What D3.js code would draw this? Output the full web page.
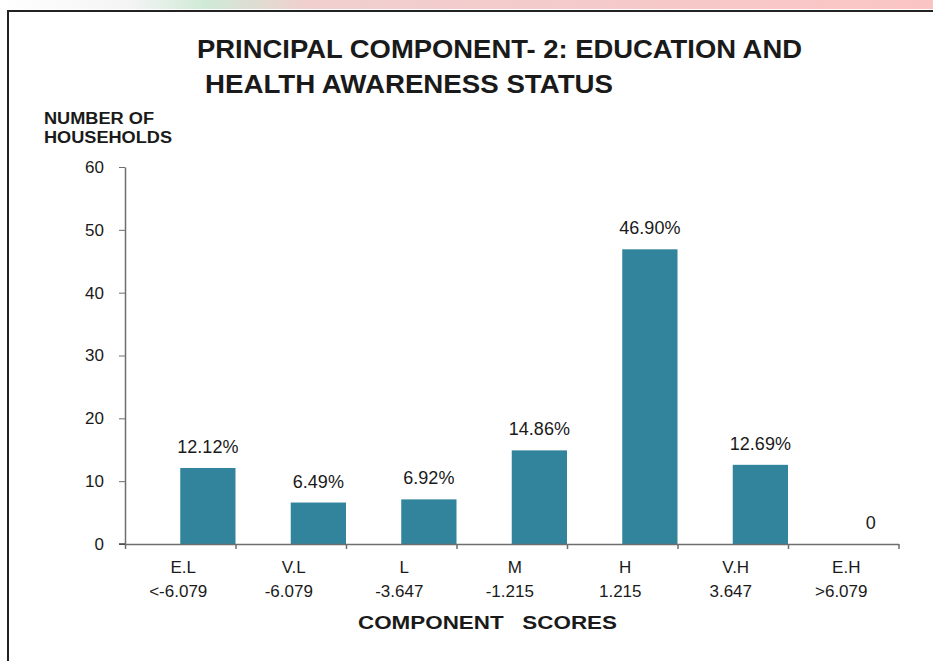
<!DOCTYPE html>
<html lang="en">
    <head>
        <meta charset="utf-8">
        <title>Principal Component 2</title>
        <script type="text/javascript" src="https://d3js.org/d3.v7.min.js"></script>
        <style>
            body { margin: 0; background: #fff; }
            text { font-family: "Liberation Sans", Arial, sans-serif; fill: #1a1a1a; }
            .bold { font-weight: bold; }
            .axis path, .axis line { stroke: #6e6e6e; }
        </style>
    </head>
    <body>
        <svg width="933" height="661"></svg>

        <script type="text/javascript">

            // data
            var categories = ["E.L", "V.L", "L", "M", "H", "V.H", "E.H"];
            var scores = ["<-6.079", "-6.079", "-3.647", "-1.215", "1.215", "3.647", ">6.079"];
            var households = [12.1, 6.6, 7.1, 14.9, 46.9, 12.6, 0];
            var pctLabels = ["12.12%", "6.49%", "6.92%", "14.86%", "46.90%", "12.69%", "0"];
            var yTicks = [0, 10, 20, 30, 40, 50, 60];

            var svg = d3.select("svg");

            // faint coloured strip above the frame (scan edge)
            var grad = svg.append("defs").append("linearGradient").attr("id", "strip");
            grad.append("stop").attr("offset", "0%").attr("stop-color", "#ffffff");
            grad.append("stop").attr("offset", "14%").attr("stop-color", "#f4f4f4");
            grad.append("stop").attr("offset", "22%").attr("stop-color", "#cfead6");
            grad.append("stop").attr("offset", "33%").attr("stop-color", "#f0cfcf");
            grad.append("stop").attr("offset", "100%").attr("stop-color", "#fbc4c4");
            svg.append("rect").attr("x", 0).attr("y", 0).attr("width", 933).attr("height", 9)
              .attr("fill", "url(#strip)");

            // frame
            svg.append("rect")
              .attr("x", 8).attr("y", 11).attr("width", 960).attr("height", 700)
              .attr("fill", "#fff").attr("stroke", "#222").attr("stroke-width", 2);

            var x0 = 125, x1 = 898.5;
            var x = d3.scaleBand().domain(categories).range([x0, x1]).padding(0);
            var bw = x.bandwidth();
            var edge = d3.scaleLinear().domain([0, categories.length]).range([x0, x1]);
            var y = d3.scaleLinear().domain([0, 60]).range([544, 167]);

            // title
            svg.append("text").attr("class", "bold").attr("x", 197).attr("y", 58)
              .attr("font-size", 25).attr("textLength", 605).attr("lengthAdjust", "spacingAndGlyphs")
              .text("PRINCIPAL COMPONENT- 2: EDUCATION AND");
            svg.append("text").attr("class", "bold").attr("x", 205).attr("y", 93)
              .attr("font-size", 25).attr("textLength", 408).attr("lengthAdjust", "spacingAndGlyphs")
              .text("HEALTH AWARENESS STATUS");

            // y axis title
            svg.append("text").attr("class", "bold").attr("x", 44).attr("y", 124)
              .attr("font-size", 16).attr("textLength", 110).attr("lengthAdjust", "spacingAndGlyphs")
              .text("NUMBER OF");
            svg.append("text").attr("class", "bold").attr("x", 44).attr("y", 143)
              .attr("font-size", 16).attr("textLength", 128).attr("lengthAdjust", "spacingAndGlyphs")
              .text("HOUSEHOLDS");

            // y axis
            var yAxis = svg.append("g").attr("class", "axis")
              .attr("transform", "translate(" + x0 + ",0)")
              .call(d3.axisLeft(y).tickValues(yTicks).tickSize(6).tickSizeOuter(0).tickPadding(15));
            yAxis.selectAll("text").attr("font-size", 17).attr("fill", "#222")
              .attr("font-family", "Liberation Sans, Arial, sans-serif");
            yAxis.select(".domain").attr("stroke-width", 1.5);

            // bars
            svg.append("g").selectAll("rect")
              .data(households)
              .enter().append("rect")
              .attr("x", function(d, i) { return x(categories[i]) + bw / 2; })
              .attr("y", function(d) { return y(d); })
              .attr("width", bw / 2)
              .attr("height", function(d) { return y(0) - y(d); })
              .attr("fill", "#31849b");

            // x axis with ticks on category boundaries
            var xAxis = svg.append("g").attr("class", "axis")
              .attr("transform", "translate(0," + y(0) + ")")
              .call(d3.axisBottom(edge).ticks(categories.length).tickFormat("").tickSize(5).tickSizeOuter(0));
            xAxis.select(".domain").attr("stroke", "#444").attr("stroke-width", 1.5);
            xAxis.selectAll("line").attr("stroke", "#444").attr("stroke-width", 1.5);
            svg.append("line").attr("x1", 119).attr("x2", x0).attr("y1", y(0)).attr("y2", y(0))
              .attr("stroke", "#444").attr("stroke-width", 1.5);

            // value labels
            svg.append("g").selectAll("text")
              .data(households)
              .enter().append("text")
              .attr("x", function(d, i) { return x(categories[i]) + bw * 0.75; })
              .attr("y", function(d) { return y(d) - 15; })
              .attr("text-anchor", "middle")
              .attr("font-size", 18)
              .text(function(d, i) { return pctLabels[i]; });

            // category labels
            var cat = svg.append("g").selectAll("g")
              .data(categories)
              .enter().append("g")
              .attr("transform", function(d) { return "translate(" + (x(d) + bw / 2) + ",0)"; });
            cat.append("text").attr("x", 3).attr("y", 573).attr("text-anchor", "middle").attr("font-size", 17)
              .text(function(d) { return d; });
            cat.append("text").attr("x", -2).attr("y", 597).attr("text-anchor", "middle").attr("font-size", 17)
              .text(function(d, i) { return scores[i]; });

            // x axis title
            svg.append("text").attr("class", "bold").attr("x", 358).attr("y", 629)
              .attr("font-size", 19).attr("textLength", 259).attr("lengthAdjust", "spacingAndGlyphs")
              .style("white-space", "pre")
              .text("COMPONENT   SCORES");

        </script>
    </body>
</html>
